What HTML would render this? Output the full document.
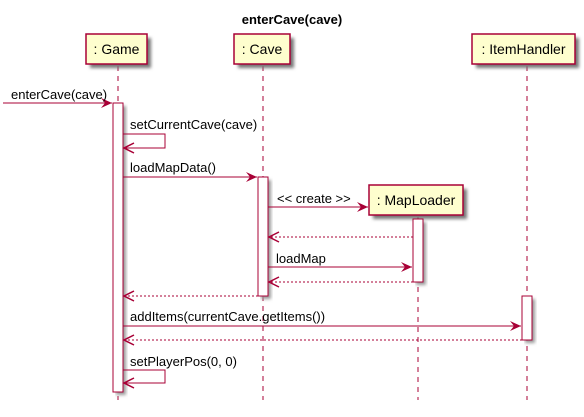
<!DOCTYPE html>
<html><head><style>
html,body{margin:0;padding:0;background:#fff;}
svg text{font-family:"Liberation Sans",sans-serif;font-size:13px;fill:#000;}
svg text.p{font-size:14px;}
</style></head><body>
<svg width="584" height="412" viewBox="0 0 584 412" xmlns="http://www.w3.org/2000/svg">
<defs>
<filter id="sh" x="-10%" y="-10%" width="130%" height="140%"><feGaussianBlur stdDeviation="1.5"/></filter>
<marker id="ar" markerWidth="12" markerHeight="10" refX="11" refY="5" orient="auto" markerUnits="userSpaceOnUse">
<path d="M0,0 L11,5 L0,10 L4,5 Z" fill="#A80036"/></marker>
<marker id="ao" markerWidth="14" markerHeight="12" refX="11" refY="6" orient="auto" markerUnits="userSpaceOnUse">
<path d="M1,1 L11,6 L1,11" fill="none" stroke="#A80036" stroke-width="1.5"/></marker>
</defs>
<text x="292" y="24" text-anchor="middle" style="font-weight:bold;font-size:13px">enterCave(cave)</text>
<g stroke="#A80036" stroke-dasharray="5,5" stroke-width="1">
<line x1="118" y1="66" x2="118" y2="400"/>
<line x1="263" y1="66" x2="263" y2="400"/>
<line x1="418" y1="217" x2="418" y2="400"/>
<line x1="527" y1="66" x2="527" y2="400"/>
</g>
<g>
<rect x="90" y="38" width="61" height="30" fill="#777" filter="url(#sh)"/>
<rect x="86" y="34" width="61" height="30" fill="#FEFECE" stroke="#A80036" stroke-width="1.5"/>
<text class="p" x="116.5" y="54" text-anchor="middle">: Game</text>
<rect x="238" y="38" width="56" height="30" fill="#777" filter="url(#sh)"/>
<rect x="234" y="34" width="56" height="30" fill="#FEFECE" stroke="#A80036" stroke-width="1.5"/>
<text class="p" x="262" y="54" text-anchor="middle">: Cave</text>
<rect x="476" y="38" width="103" height="30" fill="#777" filter="url(#sh)"/>
<rect x="472" y="34" width="103" height="30" fill="#FEFECE" stroke="#A80036" stroke-width="1.5"/>
<text class="p" x="523.5" y="54" text-anchor="middle">: ItemHandler</text>
<rect x="373" y="189" width="94" height="30" fill="#777" filter="url(#sh)"/>
<rect x="369" y="185" width="94" height="30" fill="#FEFECE" stroke="#A80036" stroke-width="1.5"/>
<text class="p" x="416" y="205" text-anchor="middle">: MapLoader</text>
</g>
<g fill="#fff" stroke="#A80036" stroke-width="1">
<rect x="116" y="106" width="10" height="289" fill="#999" stroke="none" filter="url(#sh)"/>
<rect x="113" y="103" width="10" height="289"/>
<rect x="261" y="180" width="10" height="119" fill="#999" stroke="none" filter="url(#sh)"/>
<rect x="258" y="177" width="10" height="119"/>
<rect x="416" y="222" width="10" height="63" fill="#999" stroke="none" filter="url(#sh)"/>
<rect x="413" y="219" width="10" height="63"/>
<rect x="525" y="299" width="10" height="44" fill="#999" stroke="none" filter="url(#sh)"/>
<rect x="522" y="296" width="10" height="44"/>
</g>
<g stroke="#A80036" stroke-width="1" fill="none">
<line x1="3" y1="103" x2="112" y2="103" marker-end="url(#ar)"/>
<polyline points="123,134 165,134 165,148 124,148" marker-end="url(#ao)"/>
<line x1="123" y1="177" x2="257" y2="177" marker-end="url(#ar)"/>
<line x1="268" y1="207" x2="368" y2="207" marker-end="url(#ar)"/>
<line x1="413" y1="237" x2="269" y2="237" stroke-dasharray="2,2" marker-end="url(#ao)"/>
<line x1="268" y1="267" x2="412" y2="267" marker-end="url(#ar)"/>
<line x1="413" y1="282" x2="269" y2="282" stroke-dasharray="2,2" marker-end="url(#ao)"/>
<line x1="258" y1="296" x2="124" y2="296" stroke-dasharray="2,2" marker-end="url(#ao)"/>
<line x1="123" y1="326" x2="521" y2="326" marker-end="url(#ar)"/>
<line x1="522" y1="340" x2="124" y2="340" stroke-dasharray="2,2" marker-end="url(#ao)"/>
<polyline points="123,370 165,370 165,383 124,383" marker-end="url(#ao)"/>
</g>
<text x="11" y="99">enterCave(cave)</text>
<text x="130" y="129">setCurrentCave(cave)</text>
<text x="130" y="172">loadMapData()</text>
<text x="277" y="203">&lt;&lt; create &gt;&gt;</text>
<text x="276" y="263">loadMap</text>
<text x="130" y="321">addItems(currentCave.getItems())</text>
<text x="130" y="366">setPlayerPos(0, 0)</text>
</svg>
</body></html>
